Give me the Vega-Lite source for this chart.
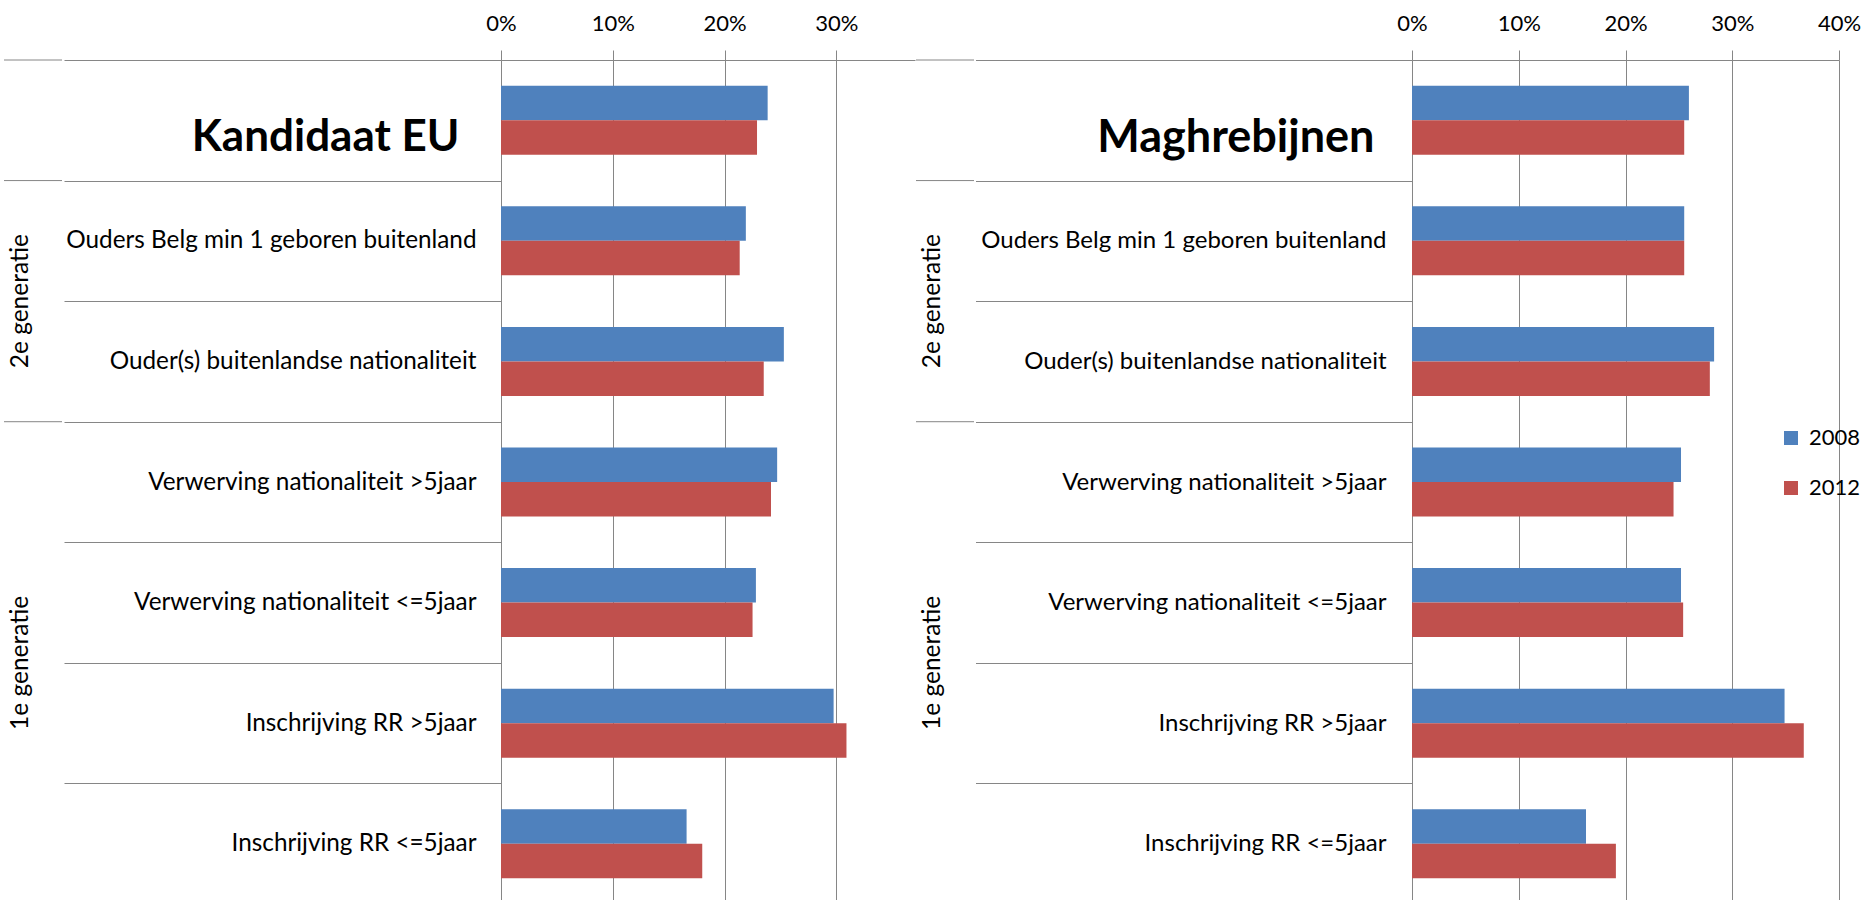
{
  "$schema": "https://vega.github.io/schema/vega-lite/v6.json",
  "padding": {"left": 3, "top": 12, "right": 0, "bottom": 0},
  "spacing": 0,
  "config": {"view": {"stroke": null}, "font": "Lato", "concat": {"spacing": 0}},
  "resolve": {"legend": {"color": "independent"}, "scale": {"x": "independent", "y": "independent", "color": "shared"}},
  "datasets": {
    "bars": [
      {"panel": "EU", "cat": "Kandidaat EU", "year": "2008", "value": 0.2385},
      {"panel": "EU", "cat": "Kandidaat EU", "year": "2012", "value": 0.229},
      {"panel": "EU", "cat": "Ouders Belg min 1 geboren buitenland", "year": "2008", "value": 0.219},
      {"panel": "EU", "cat": "Ouders Belg min 1 geboren buitenland", "year": "2012", "value": 0.2135},
      {"panel": "EU", "cat": "Ouder(s) buitenlandse nationaliteit", "year": "2008", "value": 0.253},
      {"panel": "EU", "cat": "Ouder(s) buitenlandse nationaliteit", "year": "2012", "value": 0.235},
      {"panel": "EU", "cat": "Verwerving nationaliteit >5jaar", "year": "2008", "value": 0.247},
      {"panel": "EU", "cat": "Verwerving nationaliteit >5jaar", "year": "2012", "value": 0.2415},
      {"panel": "EU", "cat": "Verwerving nationaliteit <=5jaar", "year": "2008", "value": 0.228},
      {"panel": "EU", "cat": "Verwerving nationaliteit <=5jaar", "year": "2012", "value": 0.225},
      {"panel": "EU", "cat": "Inschrijving RR >5jaar", "year": "2008", "value": 0.2975},
      {"panel": "EU", "cat": "Inschrijving RR >5jaar", "year": "2012", "value": 0.309},
      {"panel": "EU", "cat": "Inschrijving RR <=5jaar", "year": "2008", "value": 0.166},
      {"panel": "EU", "cat": "Inschrijving RR <=5jaar", "year": "2012", "value": 0.18},
      {"panel": "MA", "cat": "Maghrebijnen", "year": "2008", "value": 0.2594},
      {"panel": "MA", "cat": "Maghrebijnen", "year": "2012", "value": 0.255},
      {"panel": "MA", "cat": "Ouders Belg min 1 geboren buitenland", "year": "2008", "value": 0.255},
      {"panel": "MA", "cat": "Ouders Belg min 1 geboren buitenland", "year": "2012", "value": 0.255},
      {"panel": "MA", "cat": "Ouder(s) buitenlandse nationaliteit", "year": "2008", "value": 0.283},
      {"panel": "MA", "cat": "Ouder(s) buitenlandse nationaliteit", "year": "2012", "value": 0.279},
      {"panel": "MA", "cat": "Verwerving nationaliteit >5jaar", "year": "2008", "value": 0.252},
      {"panel": "MA", "cat": "Verwerving nationaliteit >5jaar", "year": "2012", "value": 0.245},
      {"panel": "MA", "cat": "Verwerving nationaliteit <=5jaar", "year": "2008", "value": 0.252},
      {"panel": "MA", "cat": "Verwerving nationaliteit <=5jaar", "year": "2012", "value": 0.254},
      {"panel": "MA", "cat": "Inschrijving RR >5jaar", "year": "2008", "value": 0.349},
      {"panel": "MA", "cat": "Inschrijving RR >5jaar", "year": "2012", "value": 0.367},
      {"panel": "MA", "cat": "Inschrijving RR <=5jaar", "year": "2008", "value": 0.163},
      {"panel": "MA", "cat": "Inschrijving RR <=5jaar", "year": "2012", "value": 0.191}
    ],
    "lines": [{"b": 0}, {"b": 1}, {"b": 3}],
    "groups": [{"g": "2e generatie", "m": 2}, {"g": "1e generatie", "m": 5}]
  },
  "hconcat": [
    {
      "width": 58,
      "height": 844,
      "layer": [
        {
          "data": {"name": "lines"},
          "mark": {"type": "rule", "color": "#868686", "strokeWidth": 1},
          "encoding": {"y": {"field": "b", "type": "quantitative", "scale": {"domain": [0, 7], "reverse": true, "nice": false, "zero": false}, "axis": null}}
        },
        {
          "data": {"name": "groups"},
          "mark": {"type": "text", "angle": 270, "baseline": "bottom", "align": "center", "font": "Lato", "fontSize": 24.5, "color": "#000000"},
          "encoding": {"y": {"field": "m", "type": "quantitative", "axis": null}, "text": {"field": "g"}}
        }
      ]
    },
    {
      "width": 414,
      "height": 844,
      "data": {"name": "bars"},
      "transform": [{"filter": "datum.panel === 'EU'"}],
      "mark": {"type": "bar"},
      "encoding": {
        "y": {
          "field": "cat", "type": "nominal",
          "sort": ["Kandidaat EU", "Ouders Belg min 1 geboren buitenland", "Ouder(s) buitenlandse nationaliteit", "Verwerving nationaliteit >5jaar", "Verwerving nationaliteit <=5jaar", "Inschrijving RR >5jaar", "Inschrijving RR <=5jaar"],
          "scale": {"paddingInner": 0, "paddingOuter": 0},
          "axis": {
            "title": null, "orient": "left",
            "domainColor": "#868686", "domainWidth": 1,
            "tickColor": "#868686", "tickWidth": 1, "tickSize": 437, "tickBand": "extent",
            "labelPadding": {"condition": {"test": "datum.value === 'Kandidaat EU'", "value": -395}, "value": -412},
            "labelFontSize": {"condition": {"test": "datum.value === 'Kandidaat EU'", "value": 44}, "value": 24.3},
            "labelFontWeight": {"condition": {"test": "datum.value === 'Kandidaat EU'", "value": "bold"}, "value": "normal"},
            "labelOffset": {"condition": {"test": "datum.value === 'Kandidaat EU'", "value": 17}, "value": 0},
            "labelColor": "#000000", "labelFont": "Lato", "labelLimit": 0
          }
        },
        "yOffset": {"field": "year", "type": "nominal", "scale": {"paddingInner": 0, "paddingOuter": 0.7475}},
        "x": {
          "field": "value", "type": "quantitative",
          "scale": {"domain": [0, 0.3703], "nice": false, "zero": true},
          "axis": {
            "orient": "top", "title": null, "format": ".0%", "values": [0, 0.1, 0.2, 0.3],
            "grid": true, "gridColor": "#868686", "gridWidth": 1,
            "domainColor": "#868686", "tickColor": "#868686", "tickSize": 10,
            "labelFontSize": 22, "labelFont": "Lato", "labelColor": "#000000", "labelPadding": 15, "labelFlush": false
          }
        },
        "color": {"field": "year", "type": "nominal", "scale": {"domain": ["2008", "2012"], "range": ["#4F81BD", "#C0504D"]}, "legend": null}
      }
    },
    {
      "width": 58,
      "height": 844,
      "layer": [
        {
          "data": {"name": "lines"},
          "mark": {"type": "rule", "color": "#868686", "strokeWidth": 1},
          "encoding": {"y": {"field": "b", "type": "quantitative", "scale": {"domain": [0, 7], "reverse": true, "nice": false, "zero": false}, "axis": null}}
        },
        {
          "data": {"name": "groups"},
          "mark": {"type": "text", "angle": 270, "baseline": "bottom", "align": "center", "font": "Lato", "fontSize": 24.5, "color": "#000000"},
          "encoding": {"y": {"field": "m", "type": "quantitative", "axis": null}, "text": {"field": "g"}}
        }
      ]
    },
    {
      "width": 427,
      "height": 844,
      "data": {"name": "bars"},
      "transform": [{"filter": "datum.panel === 'MA'"}],
      "mark": {"type": "bar"},
      "encoding": {
        "y": {
          "field": "cat", "type": "nominal",
          "sort": ["Maghrebijnen", "Ouders Belg min 1 geboren buitenland", "Ouder(s) buitenlandse nationaliteit", "Verwerving nationaliteit >5jaar", "Verwerving nationaliteit <=5jaar", "Inschrijving RR >5jaar", "Inschrijving RR <=5jaar"],
          "scale": {"paddingInner": 0, "paddingOuter": 0},
          "axis": {
            "title": null, "orient": "left",
            "domainColor": "#868686", "domainWidth": 1,
            "tickColor": "#868686", "tickWidth": 1, "tickSize": 436.5, "tickBand": "extent",
            "labelPadding": {"condition": {"test": "datum.value === 'Maghrebijnen'", "value": -398.5}, "value": -410.5},
            "labelFontSize": {"condition": {"test": "datum.value === 'Maghrebijnen'", "value": 45}, "value": 24},
            "labelFontWeight": {"condition": {"test": "datum.value === 'Maghrebijnen'", "value": "bold"}, "value": "normal"},
            "labelOffset": {"condition": {"test": "datum.value === 'Maghrebijnen'", "value": 17}, "value": 0},
            "labelColor": "#000000", "labelFont": "Lato", "labelLimit": 0
          }
        },
        "yOffset": {"field": "year", "type": "nominal", "scale": {"paddingInner": 0, "paddingOuter": 0.7475}},
        "x": {
          "field": "value", "type": "quantitative",
          "scale": {"domain": [0, 0.4], "nice": false, "zero": true},
          "axis": {
            "orient": "top", "title": null, "format": ".0%", "values": [0, 0.1, 0.2, 0.3, 0.4],
            "grid": true, "gridColor": "#868686", "gridWidth": 1,
            "domainColor": "#868686", "tickColor": "#868686", "tickSize": 10,
            "labelFontSize": 22, "labelFont": "Lato", "labelColor": "#000000", "labelPadding": 15, "labelFlush": false
          }
        },
        "color": {
          "field": "year", "type": "nominal",
          "scale": {"domain": ["2008", "2012"], "range": ["#4F81BD", "#C0504D"]},
          "legend": {
            "orient": "none", "legendX": 368, "legendY": 367, "title": null, "direction": "vertical",
            "symbolType": "square", "symbolSize": 196, "symbolStrokeWidth": 0,
            "labelFontSize": 22, "labelFont": "Lato", "labelColor": "#000000",
            "rowPadding": 28, "labelOffset": 7, "padding": 0
          }
        }
      }
    }
  ]
}
